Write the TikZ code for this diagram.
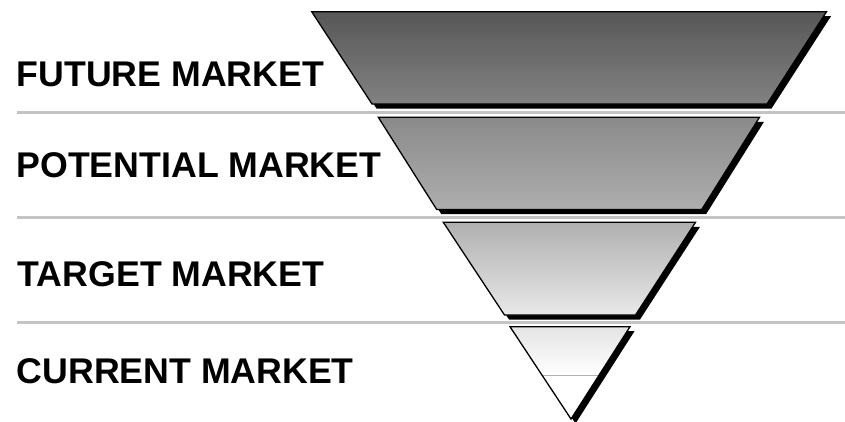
\documentclass[tikz,border=0pt]{standalone}
\usepackage{fontspec}
\setmainfont{Liberation Sans}
\definecolor{sepgray}{HTML}{C4C4C4}
\definecolor{gA}{HTML}{575757}
\definecolor{gB}{HTML}{828282}
\definecolor{gC}{HTML}{8A8A8A}
\definecolor{gD}{HTML}{AEAEAE}
\definecolor{gE}{HTML}{B0B0B0}
\definecolor{gF}{HTML}{E8E8E8}
\definecolor{gG}{HTML}{E4E4E4}
\begin{document}
\begin{tikzpicture}[x=1pt,y=-1pt,
  sepline/.style={line width=3pt, draw=sepgray},
  lbl/.style={anchor=base west, inner sep=0pt, font=\fontsize{35.7}{40}\selectfont\bfseries},
  outl/.style={draw=black, line width=1.3pt, line join=miter},
  shadowfill/.style={fill=black, shift={(4.5,4.5)}}]
\useasboundingbox (0,0) rectangle (845,421);

% separators
\draw[sepline] (16.7,112) -- (845,112);
\draw[sepline] (16.7,217.5) -- (845,217.5);
\draw[sepline] (16.7,322.7) -- (845,322.7);

% labels
\node[lbl] (future) at (16.5,86.7) {FUTURE MARKET};
\node[lbl] (potential) at (16.3,177.7) {POTENTIAL MARKET};
\node[lbl] (target) at (17.5,286) {TARGET MARKET};
\node[lbl] (current) at (16.5,383.3) {CURRENT MARKET};

% future market
\fill[shadowfill] (311.7,11.7) -- (826.5,11.7) -- (767,104) -- (372,104) -- cycle;
\shade[top color=gA, bottom color=gB] (311.7,11.7) -- (826.5,11.7) -- (767,104) -- (372,104) -- cycle;
\draw[outl] (311.7,11.7) -- (826.5,11.7) -- (767,104) -- (372,104) -- cycle;

% potential market
\fill[shadowfill] (378.3,117.3) -- (759.5,117.3) -- (701.7,209.5) -- (436.7,209.5) -- cycle;
\shade[top color=gC, bottom color=gD] (378.3,117.3) -- (759.5,117.3) -- (701.7,209.5) -- (436.7,209.5) -- cycle;
\draw[outl] (378.3,117.3) -- (759.5,117.3) -- (701.7,209.5) -- (436.7,209.5) -- cycle;

% target market
\fill[shadowfill] (443.3,222.3) -- (695.5,222.3) -- (635.5,315) -- (504.5,315) -- cycle;
\shade[top color=gE, bottom color=gF] (443.3,222.3) -- (695.5,222.3) -- (635.5,315) -- (504.5,315) -- cycle;
\draw[outl] (443.3,222.3) -- (695.5,222.3) -- (635.5,315) -- (504.5,315) -- cycle;

% current market
\fill[shadowfill] (510,326.7) -- (630,326.7) -- (571,419) -- cycle;
\fill[white] (510,326.7) -- (630,326.7) -- (571,419) -- cycle;
\begin{scope}
  \clip (510,326.7) -- (630,326.7) -- (571,419) -- cycle;
  \shade[top color=gG, bottom color=white] (505,326.7) rectangle (635,375);
  \draw[line width=0.8pt, draw=black!30] (505,375) -- (635,375);
\end{scope}
\draw[outl] (510,326.7) -- (630,326.7) -- (571,419) -- cycle;
\end{tikzpicture}
\end{document}
